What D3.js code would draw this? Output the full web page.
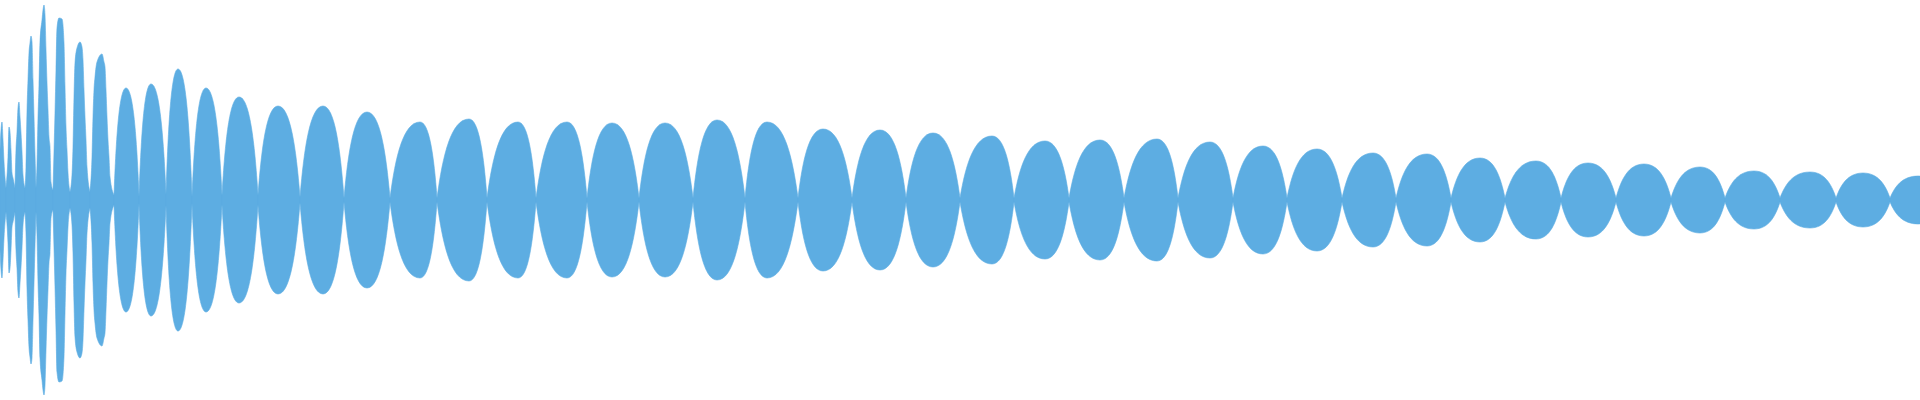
<!DOCTYPE html>
<html>
<head>
<meta charset="utf-8">
<script src="https://cdn.jsdelivr.net/npm/d3@7"></script>
<style>
  html, body { margin: 0; padding: 0; background: #fff; overflow: hidden; }
  svg { display: block; }
</style>
</head>
<body>
<svg width="1920" height="400"></svg>
<script>
// attack: envelope read sample by sample, [sample, amplitude in % of full scale]
var attackNodes = [0, 6, 15, 25, 36, 53, 70, 90, 114];
var attack = [
  [0,25],[1,35],[2,39],[3,30],[4,19],[6,6],
  [8,21.5],[9,36.5],[10,34],[11,25],[12,13.5],[13,11],[14,8.5],[15,6],
  [16,25],[17,34],[18,46],[19,49],[20,41.5],[21,33.5],[22,24],[23,12.5],[25,6],
  [26,16.5],[27,44],[28,60],[29,73.5],[30,78.5],[31,82],[32,79],[33,60],[34,41.5],[35,22.5],[36,6],
  [37,17.5],[38,41],[39,57.5],[40,79],[42,90],[43,95],[44,97.5],[45,92.5],[46,75],[47,58.5],[48,45],[49,31.5],[50,26.5],[51,9],[53,5],
  [54,24],[55,43.5],[56,65],[57,86],[59,91],[62,90.5],[64,78.5],[65,56.5],[66,36.5],[67,25],[68,13.5],[70,4],
  [72,12.5],[73,26.5],[74,51.5],[75,68.5],[77,76],[80,79],[82,76.5],[83,70],[84,55],[85,41.5],[86,30],[87,16.5],[90,4],
  [92,21.5],[93,41.5],[94,55],[95,61.5],[97,69],[102,73],[104,69],[105,66.5],[106,55],[107,41.5],[108,30],[109,21.5],[110,11.5],[114,2.5]
];

// decay: beat lobes between pinch points
var nodeTimes = [114, 139, 166, 192, 222, 258, 300, 344, 390, 437, 487, 536, 587,
  639, 693, 745, 798, 852, 906, 960, 1014, 1069, 1124, 1178, 1233, 1287, 1342,
  1396, 1451, 1505, 1561, 1616, 1671, 1725, 1780, 1836, 1890, 1945];
var nodeAmps = [2.5, 2, 3, 2, 2.5, 2.5, 1.5, 1, 1, 1, 1, 1, 1, 1, 1, 1, 1, 1, 1,
  1, 1, 1, 1, 1, 1, 1, 1, 1, 1, 1, 1, 1, 1, 1, 1, 1, 1, 1];
var peakTimes = [126, 151, 178, 206, 239, 278, 323, 367, 420, 469, 518, 567, 612,
  665, 717, 767, 823, 880, 933, 992, 1045, 1100, 1157, 1210, 1263, 1317, 1373,
  1427, 1480, 1536, 1588, 1644, 1700, 1754, 1810, 1863, 1918];
var peakAmps = [56, 58, 65.5, 56, 51.5, 47, 47, 44, 39, 40.5, 39, 39, 38.5,
  38.5, 40, 39, 35.5, 35, 33.5, 32, 29.5, 30, 30.5, 29, 27, 25.5, 23.5,
  23, 21, 19.5, 18.5, 18, 16.5, 14.5, 14, 13.5, 12];

var svg = d3.select("svg"),
    width = +svg.attr("width"),
    height = +svg.attr("height");

var x = d3.scaleLinear()
    .domain([0, 1920])
    .range([0, width]);

var y = d3.scaleLinear()
    .domain([-100, 100])
    .range([height, 0]);

var color = "#5dade2";
var g = svg.append("g");

var area = d3.area()
    .x(function(d) { return x(d[0]); })
    .y0(function(d) { return y(-d[1]); })
    .y1(function(d) { return y(d[1]); })
    .curve(d3.curveMonotoneX);

// one lobe per pair of nodes so the pinch points stay sharp
var attackLobes = d3.pairs(attackNodes).map(function(p) {
  return attack.filter(function(d) { return d[0] >= p[0] && d[0] <= p[1]; });
});

g.selectAll("path.attack")
  .data(attackLobes)
  .join("path")
    .attr("class", "attack")
    .attr("fill", color)
    .attr("stroke", color)
    .attr("stroke-width", 0.6)
    .attr("d", area);

// rounded lens between two nodes
var lobes = peakTimes.map(function(t, i) {
  return { t0: nodeTimes[i], a0: nodeAmps[i], tp: t, ap: peakAmps[i],
           t1: nodeTimes[i + 1], a1: nodeAmps[i + 1] };
});

function lens(d) {
  var d0 = 0.18, k = 0.55, p = d3.path();
  var l = d.tp - d.t0, r = d.t1 - d.tp;
  p.moveTo(x(d.t0), y(d.a0));
  p.bezierCurveTo(x(d.t0 + d0 * l), y(d.a0 + k * (d.ap - d.a0)),
                  x(d.tp - k * l), y(d.ap), x(d.tp), y(d.ap));
  p.bezierCurveTo(x(d.tp + k * r), y(d.ap),
                  x(d.t1 - d0 * r), y(d.a1 + k * (d.ap - d.a1)), x(d.t1), y(d.a1));
  p.lineTo(x(d.t1), y(-d.a1));
  p.bezierCurveTo(x(d.t1 - d0 * r), y(-(d.a1 + k * (d.ap - d.a1))),
                  x(d.tp + k * r), y(-d.ap), x(d.tp), y(-d.ap));
  p.bezierCurveTo(x(d.tp - k * l), y(-d.ap),
                  x(d.t0 + d0 * l), y(-(d.a0 + k * (d.ap - d.a0))), x(d.t0), y(-d.a0));
  p.closePath();
  return p.toString();
}

g.selectAll("path.lobe")
  .data(lobes)
  .join("path")
    .attr("class", "lobe")
    .attr("fill", color)
    .attr("stroke", color)
    .attr("stroke-width", 0.6)
    .attr("d", lens);
</script>
</body>
</html>
